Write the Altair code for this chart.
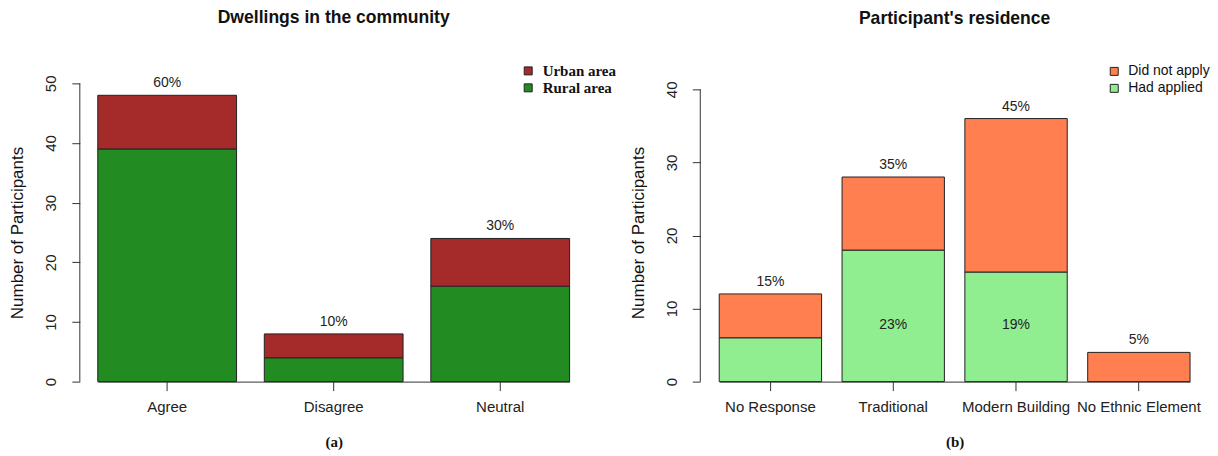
import altair as alt
import pandas as pd

# ---- data ----
cats_a = ["Agree", "Disagree", "Neutral"]
rural_a = [39, 4, 16]
urban_a = [9, 4, 8]
pct_a = ["60%", "10%", "30%"]

cats_b = ["No Response", "Traditional", "Modern Building", "No Ethnic Element"]
had_b = [6, 18, 15, 0]
not_b = [6, 10, 21, 4]
pct_b = ["15%", "35%", "45%", "5%"]
inner_b = ["", "23%", "19%", ""]
inner_y = 7.8

series_a = ["Urban area", "Rural area"]
colors_a = ["#A52A2A", "#228B22"]
series_b = ["Did not apply", "Had applied"]
colors_b = ["#FF7F50", "#90EE90"]

SANS = "Liberation Sans"
SERIF = "Liberation Serif"
AX = "#333333"

# ---- tables ----
rows_a = []
for c, r, u in zip(cats_a, rural_a, urban_a):
    rows_a.append({"cat": c, "series": "Rural area", "y0": 0, "y1": r})
    rows_a.append({"cat": c, "series": "Urban area", "y0": r, "y1": r + u})
df_a = pd.DataFrame(rows_a)
lab_a = pd.DataFrame({"cat": cats_a, "total": [r + u for r, u in zip(rural_a, urban_a)], "pct": pct_a})

rows_b = []
for c, h, n in zip(cats_b, had_b, not_b):
    if h > 0:
        rows_b.append({"cat": c, "series": "Had applied", "y0": 0, "y1": h})
    if n > 0:
        rows_b.append({"cat": c, "series": "Did not apply", "y0": h, "y1": h + n})
df_b = pd.DataFrame(rows_b)
lab_b = pd.DataFrame({"cat": cats_b, "total": [h + n for h, n in zip(had_b, not_b)], "pct": pct_b})
inn_b = pd.DataFrame({"cat": cats_b, "lab": inner_b, "yv": [inner_y] * len(cats_b)})
inn_b = inn_b[inn_b["lab"] != ""]

H = 299


def panel(df, labs, cats, series, colors, ymax, yticks, ytop, width, offset, title, sub, legx, legy,
          legfont, legsize, legweight, rowpad, inner=None):
    xenc = alt.X(
        "cat:N",
        sort=cats,
        scale=alt.Scale(domain=cats, paddingInner=1 / 6, paddingOuter=0),
        axis=alt.Axis(
            title=sub, labelAngle=0, tickSize=9, tickColor=AX, domainColor=AX,
            labelFont=SANS, labelFontSize=15, labelColor="#222222", labelPadding=9,
            titleFont=SERIF, titleFontSize=15, titleFontWeight="bold", titleColor="#111111",
            titlePadding=20,
        ),
    )
    yscale = alt.Scale(domain=[0, ymax], nice=False, zero=True)
    bars = alt.Chart(df).mark_bar(stroke="#222222", strokeWidth=1).encode(
        x=xenc,
        y=alt.Y(
            "y1:Q", scale=yscale,
            axis=alt.Axis(
                title="Number of Participants", values=yticks, grid=False, domain=False,
                offset=offset, tickSize=8, tickColor=AX,
                labelAngle=270, labelAlign="center", labelBaseline="bottom",
                labelFont=SANS, labelFontSize=15, labelColor="#222222", labelPadding=13,
                titleFont=SANS, titleFontSize=17, titleFontWeight="normal", titleColor="#111111",
                titlePadding=17,
            ),
        ),
        y2="y0:Q",
        color=alt.Color(
            "series:N",
            scale=alt.Scale(domain=series, range=colors),
            legend=alt.Legend(
                title=None, orient="none", legendX=legx, legendY=legy,
                symbolType="square", symbolSize=64, symbolStrokeColor="#222222", symbolStrokeWidth=1,
                labelFont=legfont, labelFontSize=legsize, labelFontWeight=legweight,
                labelColor="#111111", rowPadding=rowpad, labelOffset=7,
            ),
        ),
    )
    axis_line = alt.Chart(pd.DataFrame({"a": [0], "b": [ytop]})).mark_rule(color=AX, strokeWidth=1).encode(
        x=alt.value(-offset), y=alt.Y("a:Q", scale=yscale), y2="b:Q"
    )
    top = alt.Chart(labs).mark_text(font=SANS, fontSize=14, color="#222222", dy=-12).encode(
        x=alt.X("cat:N", sort=cats), y=alt.Y("total:Q", scale=yscale), text="pct:N"
    )
    layers = [bars, axis_line, top]
    if inner is not None:
        layers.append(
            alt.Chart(inner).mark_text(font=SANS, fontSize=14, color="#222222").encode(
                x=alt.X("cat:N", sort=cats), y=alt.Y("yv:Q", scale=yscale), text="lab:N"
            )
        )
    return alt.layer(*layers).properties(
        width=width, height=H,
        title=alt.TitleParams(title, font=SANS, fontSize=17.6, fontWeight="bold", color="#111111",
                              anchor="middle", frame="group", offset=37),
    )


left = panel(df_a, lab_a, cats_a, series_a, colors_a, 50, [0, 10, 20, 30, 40, 50], 50, 473, 18,
             "Dwellings in the community", "(a)", 424, -20, SERIF, 15, "bold", 1)
right = panel(df_b, lab_b, cats_b, series_b, colors_b, 40 * 299 / 293, [0, 10, 20, 30, 40], 40, 472, 19,
              "Participant's residence", "(b)", 389, -19, SANS, 14, "normal", 3, inner=inn_b)

chart = alt.hconcat(left, right, spacing=13).resolve_scale(color="independent").resolve_legend(
    color="independent"
).properties(
    padding={"left": 0, "top": 0, "right": 0, "bottom": 0}, background="white"
).configure_view(strokeWidth=0, stroke="transparent")

chart.save("out.html", embed_options={"renderer": "svg", "actions": False})
